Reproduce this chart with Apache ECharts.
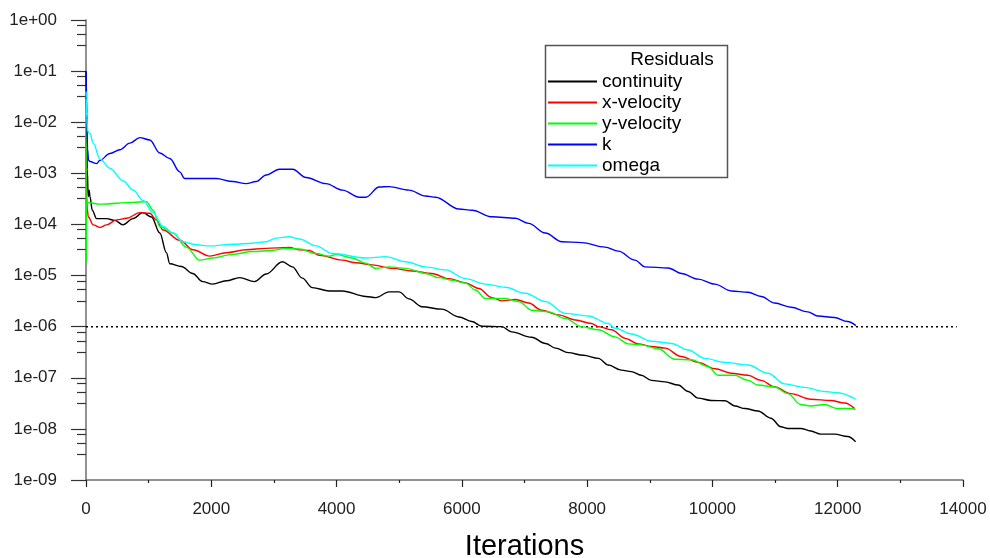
<!DOCTYPE html>
<html>
<head>
<meta charset="utf-8">
<title>Residuals</title>
<script src="https://cdn.jsdelivr.net/npm/echarts@6/dist/echarts.min.js"></script>
<style>
  html, body { margin: 0; padding: 0; background: #fff; }
  #main { width: 990px; height: 558px; }
</style>
</head>
<body>
<div id="main"></div>
<script>
// residual history, [iteration, residual]
var continuity = [[1,0.1],[10,0.012],[20,1.2e-3],[35,3.5e-4],[50,4.7e-4],[64,3.5e-4],[100,1.9e-4],[170,1.3e-4],[329,1.3e-4],[461,1.2e-4],[589,9.8e-5],[748,1.3e-4],[907,1.7e-4],[1046,1.4e-4],[1178,6.8e-5],[1284,2.8e-5],[1337,1.7e-5],[1523,1.5e-5],[1703,1.1e-5],[1862,7.6e-6],[2021,6.8e-6],[2239,7.9e-6],[2451,9.1e-6],[2690,7.6e-6],[2876,1.07e-5],[3135,1.86e-5],[3294,1.48e-5],[3453,8.9e-6],[3612,5.8e-6],[3883,5.0e-6],[4090,5.0e-6],[4467,3.9e-6],[4626,3.7e-6],[4838,4.8e-6],[4997,4.8e-6],[5156,3.5e-6],[5363,2.45e-6],[5681,2.2e-6],[5952,1.55e-6],[6159,1.26e-6],[6318,1.02e-6],[6636,1.0e-6],[6795,7.9e-7],[7113,6.2e-7],[7336,4.7e-7],[7495,3.8e-7],[7700,3.1e-7],[7940,2.75e-7],[8180,2.4e-7],[8339,1.78e-7],[8546,1.41e-7],[8705,1.32e-7],[8864,1.12e-7],[9023,8.9e-8],[9246,8.3e-8],[9453,7.2e-8],[9612,5.4e-8],[9771,4.0e-8],[9978,3.6e-8],[10201,3.55e-8],[10360,2.8e-8],[10519,2.5e-8],[10726,2.24e-8],[10933,1.62e-8],[11093,1.1e-8],[11203,1.02e-8],[11410,1.02e-8],[11570,9.1e-9],[11729,7.9e-9],[11952,7.9e-9],[12158,7.1e-9],[12286,5.6e-9]];

var xVelocity = [[1,5e-3],[8,4e-4],[20,2e-4],[37,1.4e-4],[116,9.8e-5],[223,8.7e-5],[329,9.8e-5],[489,1.23e-4],[647,1.32e-4],[859,1.7e-4],[1018,1.66e-4],[1125,1.23e-4],[1230,7.8e-5],[1496,4.9e-5],[1708,3.2e-5],[1973,2.4e-5],[2239,2.8e-5],[2557,3.2e-5],[2876,3.4e-5],[3246,3.55e-5],[3406,3.2e-5],[3565,3.1e-5],[3724,2.5e-5],[4090,2.0e-5],[4308,1.78e-5],[4567,1.62e-5],[4886,1.38e-5],[5204,1.23e-5],[5522,1.1e-5],[5793,8.7e-6],[6058,7.2e-6],[6270,5.6e-6],[6477,3.7e-6],[6636,3.2e-6],[6859,3.4e-6],[7066,2.9e-6],[7273,2.1e-6],[7543,1.7e-6],[7814,1.35e-6],[8068,1.15e-6],[8180,1.0e-6],[8387,8.7e-7],[8609,5.9e-7],[8816,4.6e-7],[9023,4.1e-7],[9246,3.8e-7],[9501,2.6e-7],[9771,2.0e-7],[10042,1.5e-7],[10296,1.23e-7],[10567,1.12e-7],[10774,8.9e-8],[10997,6.6e-8],[11251,4.9e-8],[11570,3.8e-8],[11888,3.6e-8],[12111,3.2e-8],[12270,2.5e-8]];

var yVelocity = [[1,1.7e-2],[3,1.8e-5],[8,2.7e-4],[223,2.5e-4],[748,2.7e-4],[966,2.8e-4],[1071,1.9e-4],[1178,9.1e-5],[1389,6.8e-5],[1602,3.6e-5],[1814,2.0e-5],[2021,2.2e-5],[2339,2.6e-5],[2658,2.95e-5],[2976,3.1e-5],[3194,3.4e-5],[3406,3.3e-5],[3671,2.7e-5],[3883,2.4e-5],[3990,2.6e-5],[4249,2.2e-5],[4467,1.74e-5],[4626,1.38e-5],[4838,1.48e-5],[5104,1.38e-5],[5422,1.1e-5],[5634,9.1e-6],[5840,8.1e-6],[6058,7.1e-6],[6218,5.2e-6],[6377,3.55e-6],[6695,3.55e-6],[6907,3.1e-6],[7114,2.1e-6],[7384,1.95e-6],[7650,1.45e-6],[7909,1.0e-6],[8180,8.7e-7],[8446,6.3e-7],[8657,4.6e-7],[8864,4.4e-7],[9135,3.7e-7],[9400,2.3e-7],[9660,2.25e-7],[9930,1.66e-7],[10089,1.12e-7],[10355,1.12e-7],[10567,8.9e-8],[10726,7.2e-8],[10992,6.6e-8],[11203,4.9e-8],[11410,3.0e-8],[11570,2.8e-8],[11788,3.0e-8],[11999,2.5e-8],[12206,2.5e-8],[12286,2.4e-8]];

var kResid = [[1,0.1],[5,0.06],[12,0.015],[25,3e-3],[40,1.8e-3],[64,1.7e-3],[170,1.55e-3],[223,1.8e-3],[382,2.45e-3],[541,2.9e-3],[700,3.9e-3],[859,5.0e-3],[1018,4.5e-3],[1178,2.5e-3],[1337,1.95e-3],[1496,1.07e-3],[1575,7.9e-4],[1814,7.9e-4],[2080,7.9e-4],[2344,6.9e-4],[2557,6.3e-4],[2717,6.9e-4],[2876,9.3e-4],[3087,1.2e-3],[3299,1.2e-3],[3512,8.3e-4],[3830,6.3e-4],[4095,4.7e-4],[4360,3.4e-4],[4467,3.4e-4],[4679,5.4e-4],[4838,5.5e-4],[5156,4.7e-4],[5422,3.6e-4],[5581,3.4e-4],[5952,2.0e-4],[6164,1.9e-4],[6482,1.41e-4],[6854,1.32e-4],[7066,1.05e-4],[7332,6.8e-5],[7596,4.6e-5],[7914,4.4e-5],[8286,3.6e-5],[8498,3.0e-5],[8764,2.0e-5],[8923,1.48e-5],[9294,1.41e-5],[9506,1.1e-5],[9771,8.5e-6],[10037,6.8e-6],[10301,5.0e-6],[10567,4.7e-6],[10779,3.9e-6],[10992,2.9e-6],[11256,2.4e-6],[11522,1.95e-6],[11681,1.62e-6],[11947,1.51e-6],[12158,1.26e-6],[12290,1.05e-6]];

var omega = [[1,0.04],[5,0.03],[12,0.012],[30,6.5e-3],[64,6.0e-3],[116,3.9e-3],[223,1.9e-3],[382,1.26e-3],[594,7.1e-4],[753,4.7e-4],[912,2.95e-4],[1071,1.7e-4],[1230,9.1e-5],[1389,6.8e-5],[1548,4.6e-5],[1762,4.0e-5],[1973,3.8e-5],[2344,4.1e-5],[2662,4.3e-5],[2876,4.6e-5],[3035,5.4e-5],[3246,5.75e-5],[3406,5.2e-5],[3671,3.8e-5],[3936,2.7e-5],[4467,2.2e-5],[4785,2.35e-5],[5104,1.86e-5],[5422,1.48e-5],[5740,1.29e-5],[6058,8.7e-6],[6377,6.8e-6],[6695,5.9e-6],[7013,4.5e-6],[7332,3.1e-6],[7650,1.82e-6],[8021,1.62e-6],[8339,1.15e-6],[8446,9.3e-7],[8710,7.2e-7],[9028,5.2e-7],[9346,4.7e-7],[9612,3.5e-7],[9878,2.4e-7],[10196,2.0e-7],[10567,1.78e-7],[10885,1.23e-7],[11151,7.6e-8],[11469,6.5e-8],[11788,5.4e-8],[11999,5.1e-8],[12290,3.8e-8]];

var seriesNames = ['continuity', 'x-velocity', 'y-velocity', 'k', 'omega'];
var seriesColors = ['#000000', '#ff0000', '#00ff00', '#0000ff', '#00ffff'];
// convergence criterion line, drawn across the iteration range
var convergence = [[0, 1e-6], [13900, 1e-6]];
// odd minor ticks the solver draws inside each decade
var minorFractions = [0.79, 0.53, 0.32];

var FONT = 'Liberation Sans, Arial, sans-serif';

var minorTicks = [];
for (var k = -9; k < 0; k++) {
    for (var m = 0; m < minorFractions.length; m++) {
        minorTicks.push(k + 1 + Math.log10(minorFractions[m]));
    }
}

function expLabel(v) {
    var e = Math.round(Math.log10(v));
    var s = e < 0 ? '-' : '+';
    var a = Math.abs(e);
    return '1e' + s + (a < 10 ? '0' + a : a);
}

var chart = echarts.init(document.getElementById('main'));

var allData = [continuity, xVelocity, yVelocity, kResid, omega];
var series = [{
    name: 'criterion',
    type: 'line',
    data: convergence,
    showSymbol: false,
    symbol: 'none',
    silent: true,
    lineStyle: { color: '#000', type: [2, 3], width: 1.5 },
    z: 1
}];
for (var i = 0; i < allData.length; i++) {
    series.push({
        name: seriesNames[i],
        type: 'line',
        data: allData[i],
        showSymbol: false,
        symbol: 'none',
        smooth: 0.35,
        smoothMonotone: 'x',
        lineStyle: { color: seriesColors[i], width: 1.4 },
        itemStyle: { color: seriesColors[i] },
        z: 2 + i
    });
}

chart.setOption({
    animation: false,
    backgroundColor: '#fff',
    textStyle: { fontFamily: FONT },
    grid: { left: 86, right: 27, top: 20, bottom: 78, outerBoundsMode: 'none' },
    legend: {
        data: seriesNames,
        orient: 'vertical',
        left: 548,
        top: 71,
        padding: 0,
        z: 20,
        icon: 'rect',
        itemWidth: 49,
        itemHeight: 1.8,
        itemGap: 0,
        selectedMode: false,
        textStyle: { fontFamily: FONT, fontSize: 19, color: '#000', lineHeight: 21 }
    },
    graphic: [
        {
            type: 'rect',
            shape: { x: 545.5, y: 45.5, width: 182, height: 132 },
            style: { fill: '#fff', stroke: '#555', lineWidth: 1.5 },
            z: 8
        },
        {
            type: 'text',
            x: 672,
            y: 60,
            style: {
                text: 'Residuals',
                fontFamily: FONT,
                fontSize: 19,
                fill: '#000',
                align: 'center',
                verticalAlign: 'middle'
            },
            z: 21
        }
    ],
    xAxis: {
        type: 'value',
        min: 0,
        max: 14000,
        interval: 2000,
        name: 'Iterations',
        nameLocation: 'middle',
        nameGap: 52,
        nameTextStyle: { fontFamily: FONT, fontSize: 29, color: '#000' },
        axisLine: { onZero: false, lineStyle: { color: '#6e6e6e', width: 1.5 } },
        axisTick: { length: 7, lineStyle: { color: '#222', width: 1.2 } },
        minorTick: { show: true, splitNumber: 2, length: 3, lineStyle: { color: '#222', width: 1.2 } },
        axisLabel: {
            fontFamily: FONT, fontSize: 17, color: '#222', margin: 21,
            formatter: function (v) { return String(v); }
        },
        splitLine: { show: false }
    },
    yAxis: [
        {
            type: 'log',
            logBase: 10,
            min: 1e-9,
            max: 1,
            interval: 1,
            axisLine: { show: true, lineStyle: { color: '#6e6e6e', width: 1.5 } },
            axisTick: { show: true, length: 15, lineStyle: { color: '#333', width: 1.2 } },
            axisLabel: { fontFamily: FONT, fontSize: 17, color: '#222', margin: 29, formatter: expLabel },
            splitLine: { show: false }
        },
        {
            type: 'value',
            min: -9,
            max: 0,
            position: 'left',
            axisLine: { show: false, onZero: false },
            axisLabel: { show: false },
            splitLine: { show: false },
            axisTick: {
                show: true,
                length: 9,
                customValues: minorTicks,
                lineStyle: { color: '#333', width: 1.2 }
            }
        }
    ],
    series: series
});
</script>
</body>
</html>
